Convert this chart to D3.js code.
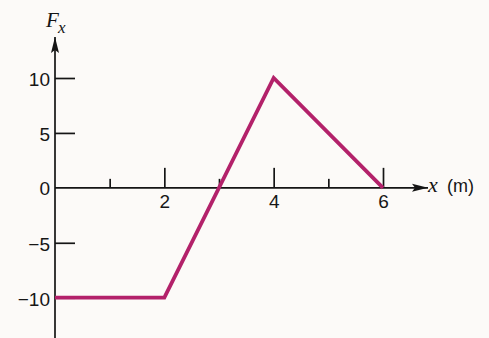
<!DOCTYPE html>
<html>
<head>
<meta charset="utf-8">
<script src="https://cdn.jsdelivr.net/npm/d3@7"></script>
<style>
  html, body { margin: 0; padding: 0; background: #fcfaf8; }
  svg { display: block; }
  .tick text { font-family: "Liberation Sans", Arial, sans-serif; font-size: 19px; fill: #161616; }
</style>
</head>
<body>
<svg id="chart" width="489" height="338"></svg>
<script>
// Force component F_x (N) versus position x (m)
const positions = [0, 2, 4, 6];
const forces = [-10, -10, 10, 0];
const xMajorTicks = [2, 4, 6];
const xMinorTicks = [1, 3, 5];
const yTicks = [-10, -5, 0, 5, 10];

const svg = d3.select("#chart");
const ink = "#151515";

const x = d3.scaleLinear().domain([0, 6]).range([55, 383]);
const y = d3.scaleLinear().domain([-10, 10]).range([297.7, 78]);

// arrowheads
const defs = svg.append("defs");
defs.append("marker")
  .attr("id", "arrow")
  .attr("viewBox", "0 0 16 10")
  .attr("refX", 16).attr("refY", 5)
  .attr("markerWidth", 16).attr("markerHeight", 10)
  .attr("markerUnits", "userSpaceOnUse")
  .attr("orient", "auto")
  .append("path")
  .attr("d", "M0,1 L16,5 L0,9 L3,5 Z")
  .attr("fill", ink);

// axis lines
svg.append("line")
  .attr("x1", x(0)).attr("x2", 428)
  .attr("y1", y(0)).attr("y2", y(0))
  .attr("stroke", ink).attr("stroke-width", 1.7)
  .attr("marker-end", "url(#arrow)");
svg.append("line")
  .attr("x1", x(0)).attr("x2", x(0))
  .attr("y1", 338).attr("y2", 37)
  .attr("stroke", ink).attr("stroke-width", 1.7)
  .attr("marker-end", "url(#arrow)");

// y ticks: marks point into the plot, labels to the left
const yAxis = d3.axisLeft(y)
  .tickValues(yTicks.filter(v => v !== 0))
  .tickSizeInner(-20).tickSizeOuter(0).tickPadding(5)
  .tickFormat(d3.format("d"));
const gy = svg.append("g").attr("transform", `translate(${x(0)},0)`).call(yAxis);
gy.select(".domain").remove();
gy.selectAll(".tick line").attr("stroke", ink).attr("stroke-width", 1.7);
gy.selectAll(".tick text").attr("dy", "0.4em");

// zero label sits left of the origin
svg.append("text")
  .attr("x", x(0) - 5).attr("y", y(0))
  .attr("dy", "0.4em")
  .attr("text-anchor", "end")
  .style("font-family", "Liberation Sans, Arial, sans-serif")
  .style("font-size", "19px").style("fill", "#161616")
  .text(d3.format("d")(yTicks[2]));

// x ticks: major and minor marks rise above the axis
const xAxis = d3.axisBottom(x)
  .tickValues(xMajorTicks)
  .tickSizeInner(-20).tickSizeOuter(0).tickPadding(7)
  .tickFormat(d3.format("d"));
const gx = svg.append("g").attr("transform", `translate(0,${y(0)})`).call(xAxis);
gx.select(".domain").remove();
gx.selectAll(".tick line").attr("stroke", ink).attr("stroke-width", 1.7);

const xMinor = d3.axisBottom(x)
  .tickValues(xMinorTicks)
  .tickSizeInner(-9).tickSizeOuter(0)
  .tickFormat("");
const gxm = svg.append("g").attr("transform", `translate(0,${y(0)})`).call(xMinor);
gxm.select(".domain").remove();
gxm.selectAll(".tick line").attr("stroke", ink).attr("stroke-width", 1.7);

// force curve
const line = d3.line().x((d, i) => x(positions[i])).y(d => y(d));
svg.append("path")
  .datum(forces)
  .attr("d", line)
  .attr("fill", "none")
  .attr("stroke", "#b3216a")
  .attr("stroke-width", 3.8)
  .attr("stroke-linejoin", "miter");

// axis titles
const fx = svg.append("text")
  .attr("x", 46).attr("y", 27)
  .style("font-family", "Liberation Serif, Times New Roman, serif")
  .style("font-style", "italic")
  .style("font-size", "21px").style("fill", ink);
fx.append("tspan").text("F");
fx.append("tspan").attr("x", 58).attr("y", 33).style("font-size", "17px").text("x");

const xl = svg.append("text")
  .attr("x", 428).attr("y", 192)
  .style("fill", ink);
xl.append("tspan")
  .style("font-family", "Liberation Serif, Times New Roman, serif")
  .style("font-style", "italic").style("font-size", "22px")
  .text("x");
xl.append("tspan")
  .attr("x", 447)
  .style("font-family", "Liberation Sans, Arial, sans-serif")
  .style("font-size", "18px")
  .text("(m)");
</script>
</body>
</html>
